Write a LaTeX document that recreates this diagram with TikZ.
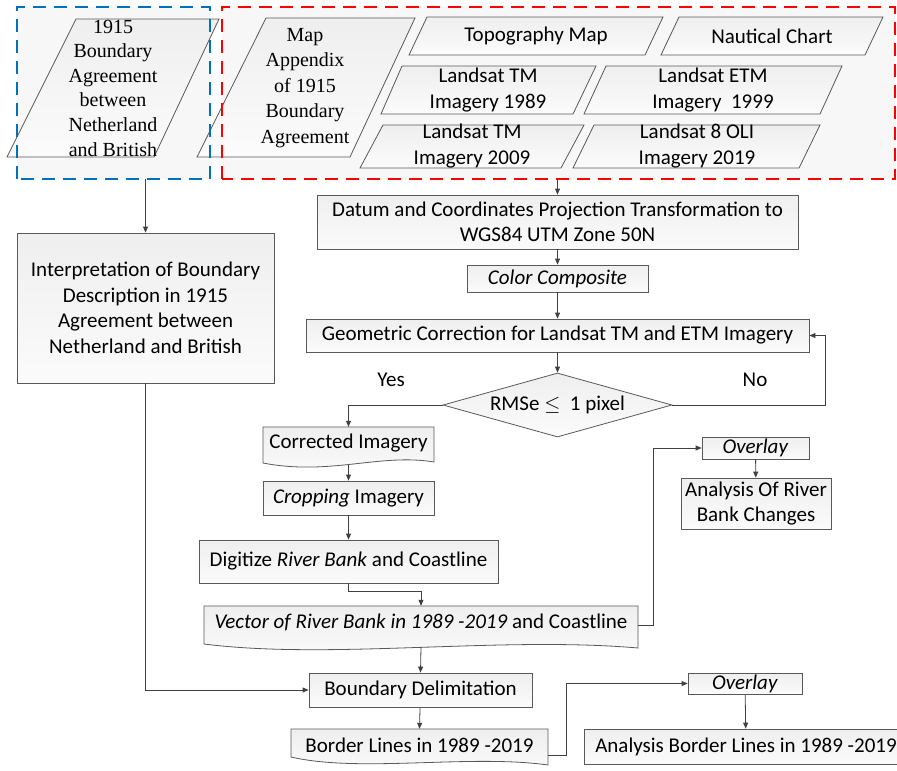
\documentclass[tikz,border=0pt]{standalone}
\usepackage{fontspec}
\setmainfont{Carlito}
\newfontfamily\serifnr{Liberation Serif}
\usetikzlibrary{arrows.meta,shapes.geometric,calc}
\definecolor{lineg}{HTML}{404040}
\definecolor{edgeg}{HTML}{595959}
\definecolor{dblue}{HTML}{0070C0}
\definecolor{dred}{HTML}{FF0000}
\begin{document}
\begin{tikzpicture}[x=1pt,y=-1pt,
  txt/.style={font=\fontsize{21}{25.5}\selectfont, align=center, inner sep=0pt},
  stxt/.style={font=\serifnr\fontsize{20}{24.6}\selectfont, align=center, inner sep=0pt},
  shadefill/.style={top color=gray!13, bottom color=gray!3},
  box/.style={txt, rectangle, draw=edgeg, line width=0.8pt, shadefill},
  pg/.style={draw=edgeg, line width=0.8pt, shadefill},
  plain/.style={txt, rectangle, draw=none},
  arr/.style={draw=lineg, line width=0.8pt, -{Triangle[length=6pt,width=5pt]}},
  grp/.style={rectangle, draw=none, fill=gray!6, inner sep=0pt},
  grpline/.style={line width=2.5pt, dash pattern=on 13pt off 8pt}
]
\useasboundingbox (0,0) rectangle (897,771);

% group backgrounds
\node[grp, minimum width=193pt, minimum height=172pt] (bluebox) at (113.5,93) {};
\node[grp, minimum width=673pt, minimum height=172pt] (redbox) at (558.5,93) {};

% input parallelograms
\path[pg] (76,19) -- (219,19) -- (154,157) -- (7,157) -- cycle;
\node[stxt] (agree) at (113,88) {1915\\Boundary\\Agreement\\between\\Netherland\\and British};

\path[pg] (266,18) -- (415,18) -- (350,157) -- (197,157) -- cycle;
\node[stxt, font=\serifnr\fontsize{20}{25.5}\selectfont] (mapapp) at (305,88) {Map\\Appendix\\of 1915\\Boundary\\Agreement};

\path[pg] (427,17) -- (663,17) -- (645,55) -- (409,55) -- cycle;
\node[txt] (topo) at (536,36) {Topography Map};

\path[pg] (679,17) -- (883,17) -- (865,55) -- (661,55) -- cycle;
\node[txt] (naut) at (772,36) {Nautical Chart};

\path[pg] (402,66) -- (596,66) -- (573,114) -- (381,114) -- cycle;
\node[txt] (tm89) at (488,90) {Landsat TM\\Imagery 1989};

\path[pg] (606,66) -- (842,66) -- (820,114) -- (584,114) -- cycle;
\node[txt] (etm99) at (713,90) {Landsat ETM\\Imagery\ \ 1999};

\path[pg] (383,125) -- (584,125) -- (561,168) -- (360,168) -- cycle;
\node[txt] (tm09) at (472,146) {Landsat TM\\Imagery 2009};

\path[pg] (594,125) -- (820,125) -- (799,168) -- (573,168) -- cycle;
\node[txt] (oli19) at (697,146) {Landsat 8 OLI\\Imagery 2019};

% dashed group borders on top
\draw[grpline, dblue] (bluebox.south west) rectangle (bluebox.north east);
\draw[grpline, dred] (redbox.south west) rectangle (redbox.north east);

% main processing chain
\node[box, minimum width=481pt, minimum height=54pt] (datum) at (557.5,222)
  {Datum and Coordinates Projection Transformation to\\WGS84 UTM Zone 50N};
\node[box, minimum width=181pt, minimum height=27pt] (color) at (557.5,278.5) {\textit{Color Composite}};
\node[box, minimum width=503pt, minimum height=33pt] (geo) at (557.5,335.5)
  {Geometric Correction for Landsat TM and ETM Imagery};
\node[txt, shape=diamond, draw=edgeg, line width=0.8pt, shadefill, aspect=3.58,
  minimum width=229pt, minimum height=64pt] (rmse) at (557.5,405) {RMSe $\leq$\ \ 1 pixel};

\node[txt] (yes) at (391,380) {Yes};
\node[txt] (no) at (755,380) {No};

% document shape: corrected imagery
\path[pg] (263,427) -- (434,427) -- (434,462) .. controls (380,453) and (330,476) .. (263,463) -- cycle;
\node[plain, minimum width=171pt, minimum height=32pt] (corr) at (348.5,443) {Corrected Imagery};

\node[box, minimum width=171pt, minimum height=34pt] (crop) at (348.5,498) {\textit{Cropping} Imagery};
\node[box, minimum width=299pt, minimum height=43pt] (digit) at (348.5,561.5) {Digitize \textit{River Bank} and Coastline};

% document shape: vector
\path[pg] (204,606) -- (638,606) -- (638,648) .. controls (500,636) and (330,660) .. (204,644) -- cycle;
\node[plain, minimum width=434pt, minimum height=32pt] (vect) at (421,622)
  {\textit{Vector of River Bank in 1989 -2019} and Coastline};

\node[box, minimum width=107pt, minimum height=22pt] (ovl1) at (755.5,448) {\textit{Overlay}};
\node[box, minimum width=150pt, minimum height=51pt] (river) at (756,503.5) {Analysis Of River\\Bank Changes};

\node[box, minimum width=257pt, minimum height=150pt] (interp) at (145.5,308)
  {Interpretation of Boundary\\Description in 1915\\Agreement between\\Netherland and British};

\node[box, minimum width=223pt, minimum height=34pt] (bdel) at (420.5,690) {Boundary Delimitation};

% document shape: border lines
\path[pg] (291,729) -- (548,729) -- (548,765) .. controls (470,754) and (360,773) .. (291,757) -- cycle;
\node[plain, minimum width=257pt, minimum height=33pt] (border) at (419.5,745.5) {Border Lines in 1989 -2019};

\node[box, minimum width=114pt, minimum height=21pt] (ovl2) at (745,683.5) {\textit{Overlay}};
\node[box, minimum width=324pt, minimum height=35pt] (banal) at (746,746.5) {Analysis Border Lines in 1989 -2019};

% connectors
\draw[arr] (interp.north |- bluebox.south) -- (interp.north);
\draw[arr] (datum.north |- redbox.south) -- (datum.north);
\draw[arr] (datum) -- (color);
\draw[arr] (color) -- (geo);
\draw[arr] (geo) -- (rmse);
\draw[arr] (rmse.east) -- ++(153,0) |- (geo.east);
\draw[arr] (rmse.west) -| (corr.north);
\draw[arr] ($(corr.south)+(0,5.5)$) -- (crop.north);
\draw[arr] (crop) -- (digit);
\draw[arr] (digit.south) -- ++(0,8) -| (vect.north);
\draw[arr] ($(vect.east)+(0,3)$) -- ++(15,0) |- (ovl1.west);
\draw[arr] (ovl1) -- (river);
\draw[arr] ($(vect.south)+(0,9)$) -- (bdel.north);
\draw[arr] (interp.south) |- (bdel.west);
\draw[arr] (bdel) -- (border.north);
\draw[arr] ($(border.east)+(0,9.5)$) -- ++(18,0) |- (ovl2.west);
\draw[arr] (ovl2) -- (banal);
\end{tikzpicture}
\end{document}
